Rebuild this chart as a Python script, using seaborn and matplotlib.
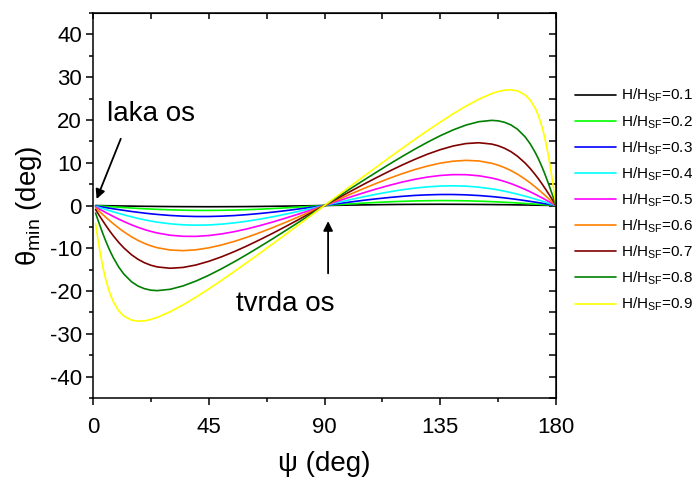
import matplotlib
matplotlib.use("Agg")
import matplotlib.pyplot as plt
from matplotlib.ticker import MultipleLocator
import pandas as pd
import seaborn as sns

# psi (deg): left lobe, middle, right lobe (denser near the ends where curves are steep)
psi_left = [1, 1.5, 2, 2.5, 3, 4, 5, 6, 7, 8, 10, 12, 15, 17.5, 20, 22.5, 25,
            30, 35, 40, 45, 50, 55, 60, 65, 70, 75, 80, 85]
psi_right = [95, 100, 105, 110, 115, 120, 125, 130, 135, 140, 145, 150, 155, 157.5,
             160, 162.5, 165, 168, 170, 172, 173, 174, 175, 176, 177, 177.5, 178,
             178.5, 179, 180]
psi = psi_left + [90] + psi_right

# theta_min (deg) for each H/H_SF
h01 = ([-0.01, -0.02, -0.02, -0.03, -0.03, -0.04, -0.05, -0.06, -0.07, -0.08, -0.10, -0.12, -0.14, -0.17, -0.19, -0.20, -0.22,
        -0.25, -0.27, -0.28, -0.29, -0.28, -0.27, -0.25, -0.22, -0.18, -0.14, -0.10, -0.05]
       + [0]
       + [0.05, 0.10, 0.14, 0.18, 0.22, 0.25, 0.27, 0.28, 0.29, 0.28, 0.27, 0.25, 0.22, 0.20,
          0.19, 0.17, 0.14, 0.12, 0.10, 0.08, 0.07, 0.06, 0.05, 0.04, 0.03, 0.03, 0.02, 0.02, 0.01, 0])
h02 = ([-0.04, -0.06, -0.08, -0.10, -0.12, -0.17, -0.21, -0.25, -0.29, -0.33, -0.41, -0.48, -0.59, -0.68, -0.76, -0.83, -0.90,
        -1.01, -1.09, -1.14, -1.15, -1.12, -1.06, -0.97, -0.86, -0.71, -0.55, -0.38, -0.19]
       + [0]
       + [0.19, 0.38, 0.55, 0.71, 0.86, 0.97, 1.06, 1.12, 1.15, 1.14, 1.09, 1.01, 0.90, 0.83,
          0.76, 0.68, 0.59, 0.48, 0.41, 0.33, 0.29, 0.25, 0.21, 0.17, 0.12, 0.10, 0.08, 0.06, 0.04, 0])
h03 = ([-0.10, -0.15, -0.20, -0.25, -0.30, -0.39, -0.49, -0.59, -0.68, -0.78, -0.96, -1.14, -1.40, -1.59, -1.78, -1.94, -2.09,
        -2.33, -2.49, -2.57, -2.57, -2.49, -2.35, -2.13, -1.86, -1.55, -1.20, -0.81, -0.41]
       + [0]
       + [0.41, 0.81, 1.20, 1.55, 1.86, 2.13, 2.35, 2.49, 2.57, 2.57, 2.49, 2.33, 2.09, 1.94,
          1.78, 1.59, 1.40, 1.14, 0.96, 0.78, 0.68, 0.59, 0.49, 0.39, 0.30, 0.25, 0.20, 0.15, 0.10, 0])
h04 = ([-0.19, -0.29, -0.38, -0.48, -0.57, -0.76, -0.94, -1.13, -1.31, -1.49, -1.84, -2.18, -2.65, -3.01, -3.34, -3.64, -3.89,
        -4.28, -4.52, -4.60, -4.55, -4.36, -4.06, -3.66, -3.17, -2.62, -2.01, -1.36, -0.69]
       + [0]
       + [0.69, 1.36, 2.01, 2.62, 3.17, 3.66, 4.06, 4.36, 4.55, 4.60, 4.52, 4.28, 3.89, 3.64,
          3.34, 3.01, 2.65, 2.18, 1.84, 1.49, 1.31, 1.13, 0.94, 0.76, 0.57, 0.48, 0.38, 0.29, 0.19, 0])
h05 = ([-0.33, -0.50, -0.67, -0.83, -1.00, -1.32, -1.65, -1.97, -2.28, -2.59, -3.19, -3.75, -4.53, -5.11, -5.62, -6.06, -6.43,
        -6.95, -7.20, -7.22, -7.02, -6.64, -6.11, -5.45, -4.68, -3.84, -2.93, -1.98, -1.00]
       + [0]
       + [1.00, 1.98, 2.93, 3.84, 4.68, 5.45, 6.11, 6.64, 7.02, 7.22, 7.20, 6.95, 6.43, 6.06,
          5.62, 5.11, 4.53, 3.75, 3.19, 2.59, 2.28, 1.97, 1.65, 1.32, 1.00, 0.83, 0.67, 0.50, 0.33, 0])
h06 = ([-0.56, -0.84, -1.12, -1.40, -1.68, -2.23, -2.77, -3.29, -3.81, -4.31, -5.27, -6.15, -7.33, -8.16, -8.86, -9.43, -9.87,
        -10.41, -10.55, -10.36, -9.90, -9.22, -8.38, -7.40, -6.31, -5.14, -3.91, -2.63, -1.32]
       + [0]
       + [1.32, 2.63, 3.91, 5.14, 6.31, 7.40, 8.38, 9.22, 9.90, 10.36, 10.55, 10.41, 9.87, 9.43,
          8.86, 8.16, 7.33, 6.15, 5.27, 4.31, 3.81, 3.29, 2.77, 2.23, 1.68, 1.40, 1.12, 0.84, 0.56, 0])
h07 = ([-0.96, -1.44, -1.91, -2.39, -2.85, -3.77, -4.67, -5.54, -6.37, -7.16, -8.63, -9.92, -11.53, -12.58, -13.38, -13.97, -14.36,
        -14.67, -14.48, -13.91, -13.05, -11.99, -10.76, -9.41, -7.96, -6.45, -4.88, -3.27, -1.64]
       + [0]
       + [1.64, 3.27, 4.88, 6.45, 7.96, 9.41, 10.76, 11.99, 13.05, 13.91, 14.48, 14.67, 14.36, 13.97,
          13.38, 12.58, 11.53, 9.92, 8.63, 7.16, 6.37, 5.54, 4.67, 3.77, 2.85, 2.39, 1.91, 1.44, 0.96, 0])
h08 = ([-1.77, -2.65, -3.52, -4.37, -5.21, -6.84, -8.37, -9.80, -11.11, -12.31, -14.39, -16.04, -17.84, -18.83, -19.45, -19.79, -19.90,
        -19.59, -18.80, -17.67, -16.31, -14.78, -13.13, -11.39, -9.58, -7.72, -5.82, -3.89, -1.95]
       + [0]
       + [1.95, 3.89, 5.82, 7.72, 9.58, 11.39, 13.13, 14.78, 16.31, 17.67, 18.80, 19.59, 19.90, 19.79,
          19.45, 18.83, 17.84, 16.04, 14.39, 12.31, 11.11, 9.80, 8.37, 6.84, 5.21, 4.37, 3.52, 2.65, 1.77, 0])
h09 = ([-4.22, -6.25, -8.21, -10.04, -11.76, -14.84, -17.40, -19.51, -21.24, -22.62, -24.62, -25.86, -26.80, -27.04, -26.96, -26.64, -26.16,
        -24.84, -23.24, -21.43, -19.50, -17.48, -15.40, -13.27, -11.10, -8.91, -6.69, -4.47, -2.24]
       + [0]
       + [2.24, 4.47, 6.69, 8.91, 11.10, 13.27, 15.40, 17.48, 19.50, 21.43, 23.24, 24.84, 26.16, 26.64,
          26.96, 27.04, 26.80, 25.86, 24.62, 22.62, 21.24, 19.51, 17.40, 14.84, 11.76, 10.04, 8.21, 6.25, 4.22, 0])

fields = ["0.1", "0.2", "0.3", "0.4", "0.5", "0.6", "0.7", "0.8", "0.9"]
series = [h01, h02, h03, h04, h05, h06, h07, h08, h09]
colors = ["#000000", "#00ff00", "#0000ff", "#00ffff", "#ff00ff",
          "#ff8000", "#800000", "#008000", "#ffff00"]

labels = ["H/H$_{\\rm SF}$=" + f for f in fields]
rows = []
for lab, vals in zip(labels, series):
    assert len(vals) == len(psi)
    for p, t in zip(psi, vals):
        rows.append({"psi": p, "theta": t, "H": lab})
df = pd.DataFrame(rows)

sns.set_style("ticks")
plt.rcParams["font.family"] = ["Liberation Sans", "DejaVu Sans"]
plt.rcParams["mathtext.fontset"] = "custom"
plt.rcParams["mathtext.rm"] = "Liberation Sans"
plt.rcParams["mathtext.it"] = "Liberation Sans:italic"
plt.rcParams["axes.unicode_minus"] = False
plt.rcParams["text.color"] = "black"
plt.rcParams["axes.labelcolor"] = "black"
plt.rcParams["xtick.color"] = "black"
plt.rcParams["ytick.color"] = "black"
plt.rcParams["axes.edgecolor"] = "black"

fig = plt.figure(figsize=(6.97, 4.78), dpi=100)
ax = fig.add_axes([93 / 697, 80 / 478, 463 / 697, 385 / 478])

sns.lineplot(data=df, x="psi", y="theta", hue="H", hue_order=labels,
             palette=dict(zip(labels, colors)), estimator=None, sort=False,
             lw=1.2, ax=ax)

ax.set_xlim(0, 180)
ax.set_ylim(-45, 45)
ax.xaxis.set_major_locator(MultipleLocator(45))
ax.xaxis.set_minor_locator(MultipleLocator(22.5))
ax.yaxis.set_major_locator(MultipleLocator(10))
ax.yaxis.set_minor_locator(MultipleLocator(5))
ax.tick_params(which="major", length=5, width=1.1, labelsize=16, direction="out")
ax.tick_params(which="minor", length=3, width=1.1, direction="out")
ax.tick_params(axis="x", pad=9)
ax.tick_params(axis="y", pad=3)
for s in ax.spines.values():
    s.set_linewidth(1.1)
    s.set_visible(True)

secx = ax.secondary_xaxis("top")
secx.xaxis.set_major_locator(MultipleLocator(22.5))
secx.tick_params(direction="in", length=4, width=1.1, labeltop=False)
secy = ax.secondary_yaxis("right")
secy.yaxis.set_major_locator(MultipleLocator(5))
secy.tick_params(direction="in", length=5, width=1.1, labelright=False)

ax.set_xlabel("ψ (deg)", fontsize=20, labelpad=9)
ax.set_ylabel("$\\mathrm{θ}_{\\rm min}$ (deg)", fontsize=20, labelpad=4)

ax.annotate("", xy=(1.0, 0.9), xytext=(11.2, 16.2),
            arrowprops=dict(arrowstyle="-|>", color="k", lw=1.3, mutation_scale=14))
ax.text(5.3, 19.7, "laka os", fontsize=20, ha="left", va="baseline")
ax.annotate("", xy=(91.4, -3.0), xytext=(91.4, -16.5),
            arrowprops=dict(arrowstyle="-|>", color="k", lw=1.3, mutation_scale=14))
ax.text(55.6, -24.6, "tvrda os", fontsize=20, ha="left", va="baseline")

leg = ax.get_legend()
handles = leg.legend_handles
ax.legend(handles, labels, loc="upper left", bbox_to_anchor=(575 / 697, 1 - 87 / 478),
          bbox_transform=fig.transFigure, frameon=False, fontsize=11,
          handlelength=2.7, handletextpad=0.3, labelspacing=0.57,
          borderpad=0, borderaxespad=0)

fig.savefig("out.png", dpi=100)
